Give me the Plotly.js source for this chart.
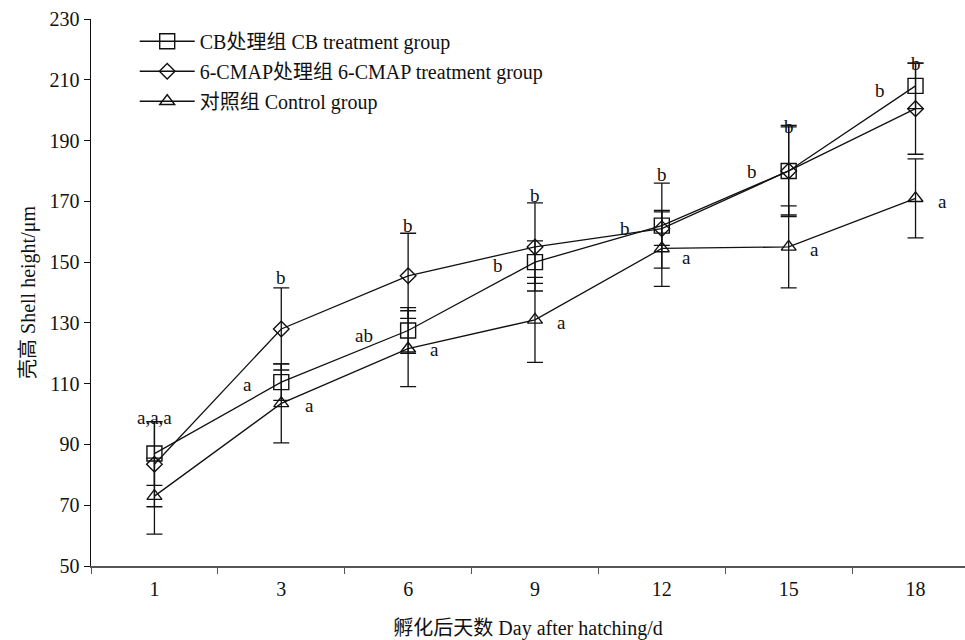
<!DOCTYPE html>
<html>
<head>
<meta charset="utf-8">
<script src="https://cdn.plot.ly/plotly-3.0.1.min.js"></script>
<style>html,body{margin:0;padding:0;background:#fff;}#chart{width:965px;height:640px;}</style>
</head>
<body>
<div id="chart"></div>
<script>
const days = ['1', '3', '6', '9', '12', '15', '18'];
const cbMean = [87, 110.5, 127.5, 150, 162, 180, 208];
const cbErr = [10.5, 6, 7.5, 7, 14, 14.5, 7.5];
const cmapMean = [83.5, 128, 145.5, 155, 161, 180, 200.5];
const cmapErr = [14, 13.5, 14, 14.5, 5.5, 15, 15];
const ctrlMean = [73, 103.5, 121.5, 131, 154.5, 155, 171];
const ctrlErr = [12.5, 13, 12.5, 14, 12.5, 13.5, 13];
const seriesNames = ['CB处理组 CB treatment group', '6-CMAP处理组 6-CMAP treatment group', '对照组 Control group'];
// significance letters: text, day, value, horizontal offset
const letterText = ['a,a,a', 'b', 'a', 'a', 'b', 'ab', 'a', 'b', 'b', 'a', 'b', 'b', 'a', 'b', 'b', 'a', 'b', 'b', 'a'];
const letterDay  = ['1', '3', '3', '3', '6', '6', '6', '9', '9', '9', '12', '12', '12', '15', '15', '15', '18', '18', '18'];
const letterVal  = [98.8, 145, 109.6, 102.7, 162.2, 126, 121.1, 172, 149, 130, 178.7, 161.2, 151.4, 194.5, 179.7, 154, 215.5, 206.6, 170];
const letterShift = [0, 0, -34, 28, 0, -44, 26, 0, -37, 27, 0, -37, 25, 0, -37, 26, 0, -36, 27];

const FONT = 'Liberation Serif, Times New Roman, Noto Sans CJK SC, serif';
const INK = '#111';

function mk(name, y, err, symbol, size, group) {
  return {
    type: 'scatter', mode: 'lines+markers', name: name, x: days, y: y,
    legendgroup: group,
    line: {color: INK, width: 1.3},
    marker: {symbol: symbol, size: size, color: INK, line: {color: INK, width: 1.4}},
    error_y: {type: 'data', array: err, visible: true, color: INK, thickness: 1.3, width: 8},
    cliponaxis: false
  };
}

const traces = [
  mk(seriesNames[0], cbMean, cbErr, 'square-open', 15, 'g1'),
  mk(seriesNames[1], cmapMean, cmapErr, 'diamond-open', 12, 'g2'),
  mk(seriesNames[2], ctrlMean, ctrlErr, 'triangle-up-open', 13, 'g3')
];

const annotations = letterText.map((t, i) => ({
  text: t, x: days.indexOf(letterDay[i]), y: letterVal[i], xref: 'x', yref: 'y',
  xshift: letterShift[i], showarrow: false,
  font: {family: FONT, size: 19, color: INK}
}));

const layout = {
  width: 965, height: 640,
  margin: {l: 91, r: 0, t: 19, b: 74},
  paper_bgcolor: '#fff', plot_bgcolor: '#fff',
  font: {family: FONT, size: 20, color: INK},
  showlegend: true,
  legend: {
    x: 0.05, y: 0.995, xanchor: 'left', yanchor: 'top',
    bgcolor: 'rgba(0,0,0,0)', traceorder: 'grouped', tracegroupgap: 1,
    itemwidth: 55,
    font: {family: FONT, size: 20, color: INK}
  },
  xaxis: {
    type: 'category', range: [-0.5, 6.39],
    tickson: 'boundaries', ticks: 'outside', ticklen: 6, tickcolor: '#555',
    showline: true, linecolor: '#555', linewidth: 1.5,
    showgrid: false, zeroline: false, ticklabelstandoff: 4,
    tickfont: {family: FONT, size: 20, color: INK},
    title: {text: '孵化后天数 Day after hatching/d', font: {family: FONT, size: 20, color: INK}, standoff: 22}
  },
  yaxis: {
    range: [50, 230], dtick: 20, tick0: 50,
    ticks: 'outside', ticklen: 6, tickcolor: INK,
    showline: true, linecolor: INK, linewidth: 1.5,
    showgrid: false, zeroline: false,
    tickfont: {family: FONT, size: 20, color: INK},
    title: {text: '壳高 Shell height/μm', font: {family: FONT, size: 20, color: INK}, standoff: 8}
  },
  annotations: annotations
};

Plotly.newPlot('chart', traces, layout, {displayModeBar: false, staticPlot: true});
</script>
</body>
</html>
